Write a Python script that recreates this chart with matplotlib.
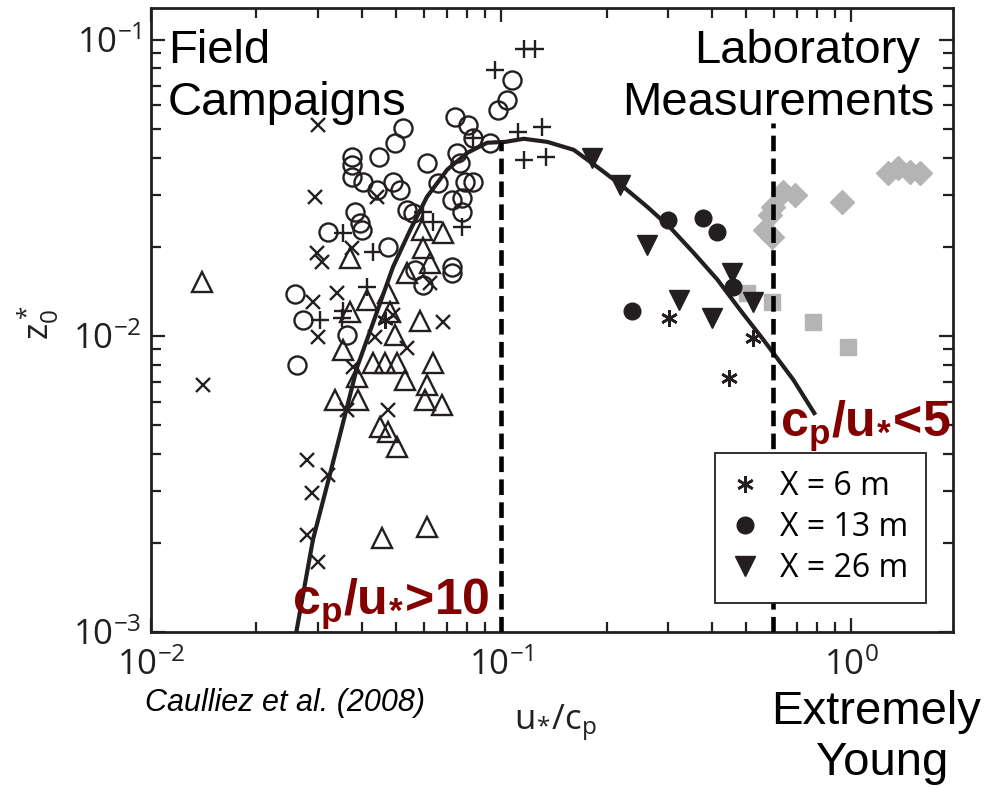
import matplotlib
matplotlib.use("Agg")
import matplotlib.pyplot as plt
from matplotlib.ticker import LogLocator, NullFormatter

plt.rcParams["font.family"] = ["Open Sans", "DejaVu Sans"]
plt.rcParams["mathtext.fontset"] = "custom"
plt.rcParams["mathtext.rm"] = "Open Sans"
plt.rcParams["mathtext.it"] = "Open Sans:italic"
plt.rcParams["mathtext.bf"] = "Liberation Sans:bold"

INK = "#231f20"
GREY = "#b4b4b4"
DARKRED = "#840000"

# field campaigns (u*/cp, z0*)
CIRC_X = [0.1075, 0.104, 0.098, 0.0739, 0.0805, 0.0525, 0.0498, 0.0448, 0.0832, 0.093,
          0.0749, 0.0764, 0.0614, 0.0375, 0.0375, 0.0375, 0.0403, 0.0442, 0.0491, 0.0514,
          0.0661, 0.0789, 0.0832, 0.0724, 0.0774, 0.0774, 0.0539, 0.056, 0.0383, 0.0396,
          0.032, 0.0401, 0.0475, 0.0568, 0.0724, 0.0724, 0.0599, 0.0258, 0.0272, 0.0363,
          0.0261]
CIRC_Y = [0.0733, 0.0627, 0.058, 0.0549, 0.0516, 0.0504, 0.0449, 0.0402, 0.0467, 0.0449,
          0.0415, 0.0384, 0.0384, 0.0402, 0.0378, 0.0344, 0.0331, 0.0311, 0.0331, 0.0311,
          0.0329, 0.0331, 0.0331, 0.0288, 0.0293, 0.0262, 0.0267, 0.026, 0.0262, 0.0241,
          0.0225, 0.0228, 0.02, 0.0167, 0.0171, 0.0163, 0.0149, 0.0138, 0.0113, 0.0101,
          0.00798]

PLUS_X = [0.116, 0.125, 0.0961, 0.112, 0.131, 0.116, 0.134, 0.0832, 0.0774, 0.0599,
          0.0354, 0.0639, 0.0431, 0.0414, 0.0354, 0.0304, 0.0351]
PLUS_Y = [0.0932, 0.0932, 0.0792, 0.0489, 0.0508, 0.0393, 0.0402, 0.0467, 0.0233, 0.0262,
          0.0223, 0.0243, 0.0192, 0.0146, 0.0121, 0.0113, 0.0115]

CROSS_X = [0.030, 0.0294, 0.0298, 0.0308, 0.0375, 0.029, 0.034, 0.0627, 0.0491, 0.0683,
           0.030, 0.0437, 0.0539, 0.0378, 0.0141, 0.0363, 0.0475, 0.0279, 0.032, 0.0288,
           0.0279, 0.030, 0.0442]
CROSS_Y = [0.0516, 0.0295, 0.0191, 0.0178, 0.0198, 0.013, 0.014, 0.0151, 0.0118, 0.0111,
           0.00992, 0.00992, 0.00911, 0.00786, 0.00683, 0.00562, 0.00562, 0.00381, 0.00339,
           0.00295, 0.00213, 0.00172, 0.0295]

TRI_X = [0.014, 0.0683, 0.0595, 0.0599, 0.037, 0.0539, 0.0627, 0.0414, 0.0475, 0.037,
         0.0482, 0.0587, 0.0354, 0.0498, 0.0431, 0.0466, 0.0504, 0.0639, 0.0388, 0.0532,
         0.0614, 0.0336, 0.039, 0.0606, 0.0678, 0.0451, 0.0475, 0.0504, 0.0457, 0.0614]
TRI_Y = [0.0152, 0.0223, 0.0228, 0.0198, 0.0183, 0.0163, 0.0176, 0.0132, 0.014, 0.012,
         0.012, 0.0112, 0.00897, 0.0101, 0.00811, 0.00811, 0.00811, 0.00811, 0.00727, 0.0071,
         0.00683, 0.00608, 0.00608, 0.00608, 0.00585, 0.00493, 0.00474, 0.00422, 0.00208,
         0.00226]

STAR_FIELD_X = [0.0466]
STAR_FIELD_Y = [0.0113]

# laboratory, Caulliez et al. (2008)
X6_X = [0.302, 0.525, 0.448]
X6_Y = [0.0115, 0.00985, 0.00721]
X13_X = [0.300, 0.378, 0.414, 0.460, 0.237]
X13_Y = [0.0247, 0.0250, 0.0225, 0.0146, 0.0121]
X26_X = [0.182, 0.219, 0.261, 0.457, 0.525, 0.321, 0.401]
X26_Y = [0.0399, 0.0324, 0.0203, 0.0163, 0.0130, 0.0132, 0.0115]

SQ_X = [0.504, 0.595, 0.779, 0.980]
SQ_Y = [0.0140, 0.0130, 0.0111, 0.00918]
DIA_X = [0.568, 0.595, 0.587, 0.599, 0.639, 0.692, 0.943, 1.27, 1.36, 1.47, 1.57]
DIA_Y = [0.0228, 0.0216, 0.0256, 0.0273, 0.0306, 0.0300, 0.0284, 0.0355, 0.0369, 0.0358,
         0.0355]

# fitted curve
FIT_X = [0.0260, 0.029, 0.0325, 0.0363, 0.0388, 0.0431, 0.0491, 0.055, 0.0614, 0.0701,
         0.080, 0.0912, 0.1027, 0.116, 0.1353, 0.161, 0.188, 0.223, 0.261, 0.304,
         0.354, 0.414, 0.482, 0.561, 0.683, 0.789]
FIT_Y = [0.00100, 0.00205, 0.00344, 0.00576, 0.00786, 0.0111, 0.0171, 0.0228, 0.0295,
         0.0364, 0.0415, 0.0449, 0.0452, 0.0463, 0.0452, 0.0425, 0.0372, 0.0319, 0.0273,
         0.0232, 0.0191, 0.0155, 0.0122, 0.00969, 0.0071, 0.00541]

REGIME_X = [0.1, 0.599]
REGIME_TOP = [0.0452, 0.0524]

W, H = 985, 787
fig = plt.figure(figsize=(W / 100, H / 100), dpi=100)
ax = fig.add_axes([151 / W, 1 - 632 / H, 802 / W, 624 / H])
ax.set_xscale("log")
ax.set_yscale("log")
ax.set_xlim(0.01, 1.95)
ax.set_ylim(0.001, 0.128)

open_kw = dict(linestyle="none", markerfacecolor="none", markeredgecolor=INK,
               markeredgewidth=1.7, zorder=3)
ax.plot(CIRC_X, CIRC_Y, marker="o", markersize=13, **open_kw)
ax.plot(TRI_X, TRI_Y, marker="^", markersize=15, **open_kw)
ax.plot(PLUS_X, PLUS_Y, marker="+", markersize=13, **open_kw)
ax.plot(CROSS_X, CROSS_Y, marker="x", markersize=10, **open_kw)
ax.plot(STAR_FIELD_X, STAR_FIELD_Y, marker=(6, 2, 0), markersize=12, **open_kw)

ax.plot(SQ_X, SQ_Y, "s", color=GREY, markersize=11, zorder=2)
ax.plot(DIA_X, DIA_Y, "D", color=GREY, markersize=12, zorder=2)

ast = ax.plot(X6_X, X6_Y, linestyle="none", marker=(6, 2, 0), markersize=12,
              markeredgewidth=1.9, color=INK, zorder=3)[0]
dot = ax.plot(X13_X, X13_Y, "o", color=INK, markersize=12, zorder=3)[0]
tri = ax.plot(X26_X, X26_Y, "v", color=INK, markersize=14, zorder=3)[0]

ax.plot(FIT_X, FIT_Y, color=INK, linewidth=3.0, solid_capstyle="butt", zorder=4)

for xv, top in zip(REGIME_X, REGIME_TOP):
    ax.plot([xv, xv], [0.001, top], color="black", linewidth=3.3,
            dashes=(3.4, 1.6), zorder=4)

# axes styling
for sp in ax.spines.values():
    sp.set_linewidth(2.0)
    sp.set_color(INK)
ax.tick_params(which="both", direction="in", top=True, right=True, color=INK,
               width=1.6, labelsize=25, labelcolor=INK)
ax.tick_params(which="major", length=10)
ax.tick_params(which="minor", length=7)
ax.tick_params(axis="x", pad=12)
ax.tick_params(axis="y", pad=7)
ax.set_xticks([0.01, 0.1, 1], [r"$\mathregular{10^{-2}}$", r"$\mathregular{10^{-1}}$",
                               r"$\mathregular{10^{0}}$"])
ax.set_yticks([0.001, 0.01, 0.1], [r"$\mathregular{10^{-3}}$", r"$\mathregular{10^{-2}}$",
                                   r"$\mathregular{10^{-1}}$"])
for axis in (ax.xaxis, ax.yaxis):
    axis.set_minor_locator(LogLocator(base=10, subs=range(2, 10), numticks=20))
    axis.set_minor_formatter(NullFormatter())

leg = ax.legend([ast, dot, tri], ["X = 6 m", "X = 13 m", "X = 26 m"],
                loc="upper left", bbox_to_anchor=(0.703, 0.287), fontsize=23,
                frameon=True, fancybox=False, framealpha=1, edgecolor=INK,
                handlelength=0.8, handletextpad=0.7, labelspacing=0.25,
                borderpad=0.55, borderaxespad=0)
leg.get_frame().set_linewidth(1.3)
leg.set_zorder(10)


def fpos(x, y):
    return x / W, 1 - y / H


big = dict(family=["Liberation Sans"], fontsize=34, color="black")
fig.text(*fpos(168, 63), "Field", ha="left", va="baseline", **big)
fig.text(*fpos(168, 115), "Campaigns", ha="left", va="baseline", **big)
fig.text(*fpos(920, 63), "Laboratory", ha="right", va="baseline", **big)
fig.text(*fpos(935, 115), "Measurements", ha="right", va="baseline", **big)
fig.text(*fpos(876, 724), "Extremely", ha="center", va="baseline", **big)
fig.text(*fpos(882, 775), "Young", ha="center", va="baseline", **big)

red = dict(family=["Liberation Sans"], fontsize=36, fontweight="bold", color=DARKRED)
fig.text(*fpos(292, 615), r"$\mathbf{c_p/u_{\!*\!}}$>10", ha="left", va="baseline", **red)
fig.text(*fpos(780, 437), r"$\mathbf{c_p/u_{\!*\!}}$<5", ha="left", va="baseline", **red)

fig.text(*fpos(145, 711), "Caulliez et al. (2008)", ha="left", va="baseline",
         family=["Liberation Sans"], style="italic", fontsize=22, color="black")

fig.text(*fpos(555, 730), r"$\mathregular{u_{\!*\!}/c_p}$", ha="center", va="baseline",
         fontsize=25, color=INK)
fig.text(*fpos(38, 322), r"$\mathregular{z_0^*}$", ha="center", va="center",
         rotation=90, fontsize=25, color=INK)

fig.savefig("out.png", dpi=100)
